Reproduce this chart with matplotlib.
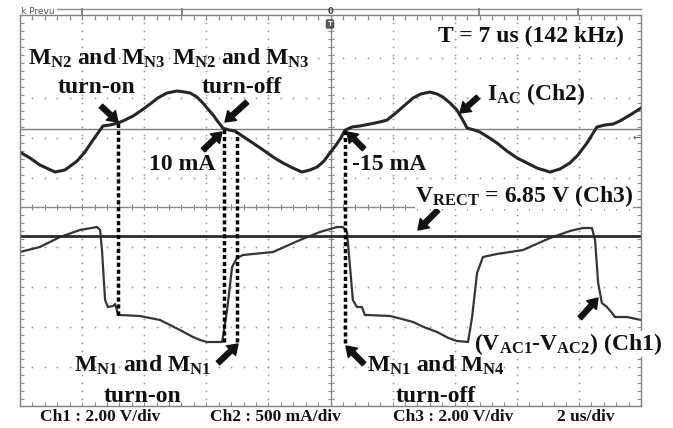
import numpy as np
import matplotlib
matplotlib.use("Agg")
import matplotlib.pyplot as plt
from matplotlib.patches import FancyArrowPatch
from matplotlib.lines import Line2D

plt.rcParams['mathtext.fontset'] = 'custom'
plt.rcParams['mathtext.rm'] = 'Liberation Serif:bold'
plt.rcParams['mathtext.bf'] = 'Liberation Serif:bold'
plt.rcParams['mathtext.it'] = 'Liberation Serif:bold'

# ---------------- data (read from the scope capture) ----------------
# Ch2: I_AC (mA) vs time (us)
t_iac = [0.00, 0.32, 0.64, 1.13, 1.45, 1.84, 2.09, 2.35, 2.58, 2.67, 2.90, 3.16, 3.38, 3.64, 3.93,
         4.19, 4.44, 4.73, 5.06, 5.31, 5.48, 5.70, 5.89, 6.05, 6.22, 6.38, 6.54, 6.73, 6.92, 7.21,
         7.50, 7.83, 8.15, 8.47, 8.79, 9.08, 9.34, 9.57, 9.79, 9.98, 10.18, 10.31, 10.47, 10.69, 10.95,
         11.27, 11.59, 11.82, 12.14, 12.40, 12.66, 12.91, 13.20, 13.43, 13.62, 13.85, 14.07, 14.24, 14.40,
         14.62, 14.81, 15.07, 15.36, 15.68, 16.01, 16.33, 16.65, 17.07, 17.39, 17.71, 17.97, 18.26, 18.42,
         18.58, 18.84, 19.10, 19.32, 19.65, 20.00]
i_ac = [-290, -362, -450, -538, -512, -400, -288, -138, -12, 38, 50, 75, 112, 162, 238,
        312, 388, 450, 475, 462, 450, 400, 325, 250, 175, 88, 10, -12, -25, -100,
        -175, -262, -350, -425, -488, -538, -512, -475, -400, -300, -200, -125, -15, 25, 38,
        62, 88, 112, 212, 300, 388, 438, 462, 438, 400, 325, 238, 125, 12,
        -12, -38, -100, -175, -275, -362, -425, -488, -538, -500, -425, -325, -175, -75,
        25, 50, 62, 100, 175, 262]

# Ch1: V_AC1 - V_AC2 (V) vs time (us)
t_vac = [0.00, 0.64, 1.29, 1.93, 2.48, 2.58, 2.64, 2.74, 2.83, 3.00, 3.06, 3.12, 3.16, 3.22, 3.86,
         4.51, 4.83, 5.15, 5.57, 5.80, 6.02, 6.51, 6.67, 6.83, 6.99, 7.18, 8.15, 9.02, 9.66, 10.21,
         10.40, 10.53, 10.63, 10.72, 10.85, 11.01, 11.11, 11.18, 11.92, 12.30, 12.66, 13.00, 13.43, 13.80,
         14.07, 14.43, 14.56, 14.72, 14.91, 15.36, 16.20, 17.07, 17.71, 18.13, 18.42, 18.52, 18.62,
         18.74, 18.90, 19.07, 19.16, 19.55, 20.00]
v_ac = [1.75, 2.0, 2.5, 2.85, 3.0, 2.85, 1.85, -0.65, -1.0, -0.95, -0.85, -1.15, -1.4, -1.4, -1.45,
        -1.65, -1.9, -2.15, -2.5, -2.65, -2.75, -2.75, -1.15, 1.0, 1.45, 1.6, 1.75, 2.35, 2.75, 3.0,
        3.0, 2.75, 1.0, -0.65, -1.0, -1.0, -1.4, -1.4, -1.45, -1.6, -1.75, -2.0, -2.25, -2.55,
        -2.7, -2.75, -1.5, 0.7, 1.5, 1.65, 1.85, 2.45, 2.8, 2.95, 2.95, 2.35, 0.2,
        -0.8, -1.0, -1.3, -1.5, -1.5, -1.65]

# Ch3: rectifier output (V)
v_rect = 6.85

# switching instants (us) and the Ch1 level where each dotted marker ends (V)
marker_t = [3.16, 6.57, 6.99, 10.47]
marker_v_end = [-1.4, -2.75, -2.75, -2.8]

i_turnoff_ma = 10
i_turnon_ma = -15
period_us = 7
freq_khz = 142
scale_labels = ["Ch1 : 2.00 V/div", "Ch2 : 500 mA/div", "Ch3 : 2.00 V/div", "2 us/div"]

# ---------------- display settings ----------------
W, H = 673, 428
ch2_zero, ch2_mA_per_div = 1.95, 500.0
ch1_zero, ch1_V_per_div = -2.0, 2.0
ch3_zero, ch3_V_per_div = -4.15, 2.0

fig = plt.figure(figsize=(W / 100, H / 100), dpi=100)
ax = fig.add_axes([20 / W, 1 - 406 / H, 621 / W, 391 / H])
ax.set_xlim(0, 20)
ylo, yhi = (207 - 406) / 40, (207 - 15) / 40
ax.set_ylim(ylo, yhi)
ax.set_xticks([]); ax.set_yticks([])
for s in ax.spines.values():
    s.set_color('#808080'); s.set_linewidth(1.0)

grid_c = '#9c9c9c'
# graticule dots
row_px = [19, 58, 98, 138, 178, 247, 287, 327, 367]
rows = [(207 - y) / 40 for y in row_px]
tx = np.arange(0.4, 20, 0.4)
for r in rows:
    ax.plot(tx, np.full_like(tx, r), ls='none', marker='o', ms=1.3, mew=0, color=grid_c)
ty = np.arange(-4.8, 4.8, 0.2)
for c in [2, 4, 6, 8, 12, 14, 16, 18]:
    ax.plot(np.full_like(ty, c), ty, ls='none', marker='o', ms=1.3, mew=0, color=grid_c)

# center axes with ticks
ax.axhline(0, color='#8a8a8a', lw=1.0)
ax.axvline(10, color='#8a8a8a', lw=1.0)
tk = np.arange(0, 20.01, 0.4)
ax.plot(tk, np.zeros_like(tk), ls='none', marker='|', ms=5, mew=0.8, color='#8a8a8a')
tv = np.arange(-5.0, 5.0, 0.2)
ax.plot(np.full_like(tv, 10), tv, ls='none', marker='_', ms=5, mew=0.8, color='#8a8a8a')
# edge ticks
ax.plot(tk, np.full_like(tk, ylo), ls='none', marker='|', ms=6, mew=0.8, color='#8a8a8a')
ax.plot(tk, np.full_like(tk, yhi), ls='none', marker='|', ms=6, mew=0.8, color='#8a8a8a')
ax.plot(np.zeros_like(tv), tv, ls='none', marker='_', ms=6, mew=0.8, color='#8a8a8a')
ax.plot(np.full_like(tv, 20), tv, ls='none', marker='_', ms=6, mew=0.8, color='#8a8a8a')

# Ch2 reference line
ax.axhline(ch2_zero, color='#7c7c7c', lw=1.0)

# traces
ax.plot(t_iac, ch2_zero + np.array(i_ac) / ch2_mA_per_div, color='#262626', lw=2.2,
        solid_joinstyle='round')
ax.plot(t_vac, ch1_zero + np.array(v_ac) / ch1_V_per_div, color='#353535', lw=1.6,
        solid_joinstyle='round')
ax.axhline(ch3_zero + v_rect / ch3_V_per_div, color='#2a2a2a', lw=2.0)

# dotted switching markers
for tm, ve in zip(marker_t, marker_v_end):
    top = ch2_zero + np.interp(tm, t_iac, i_ac) / ch2_mA_per_div
    bot = ch1_zero + ve / ch1_V_per_div
    ax.plot([tm, tm], [bot, top], color='black', lw=2.5, ls=(0, (1.2, 0.8)))


# ---------------- annotations (pixel layout helpers) ----------------
def F(x, y):
    return (x / W, 1 - y / H)


def label(x, y, s, size=17, ha='left', bg=False):
    kw = dict(fontsize=size, family='Liberation Serif', weight='bold', ha=ha,
              va='baseline', color='#111111')
    if bg:
        kw['bbox'] = dict(facecolor='white', edgecolor='none', pad=0.3)
    fig.text(*F(x, y), s, **kw)


def arrow(x0, y0, x1, y1):
    p = FancyArrowPatch(F(x0, y0), F(x1, y1), transform=fig.transFigure,
                        arrowstyle='simple,head_length=7,head_width=9.5,tail_width=3.6',
                        mutation_scale=1, color='#111111', shrinkA=0, shrinkB=0)
    fig.add_artist(p)


MN23 = r"$\mathrm{M}_{\mathrm{N2}}$ and $\mathrm{M}_{\mathrm{N3}}$"
label(97, 65, MN23, ha='center')
label(97, 93, "turn-on", ha='center')
label(241, 65, MN23, ha='center')
label(242, 93, "turn-off", ha='center')
label(182, 170, f"{i_turnoff_ma} mA", ha='center')
label(352, 170, f"{i_turnon_ma} mA")
label(531, 42, f"T = {period_us} us ({freq_khz} kHz)", ha='center')
label(487, 100, r"$\mathrm{I}_{\mathrm{AC}}$ (Ch2)")
label(415, 202, r"$\mathrm{V}_{\mathrm{RECT}}$" + f" = {v_rect:.2f} V (Ch3)", bg=True)
label(143, 372, r"$\mathrm{M}_{\mathrm{N1}}$ and $\mathrm{M}_{\mathrm{N1}}$", ha='center')
label(143, 402, "turn-on", ha='center')
label(436, 372, r"$\mathrm{M}_{\mathrm{N1}}$ and $\mathrm{M}_{\mathrm{N4}}$", ha='center')
label(436, 402, "turn-off", ha='center')
label(474, 350, r"($\mathrm{V}_{\mathrm{AC1}}$-$\mathrm{V}_{\mathrm{AC2}}$) (Ch1)", bg=True)

arrow(101, 106, 118, 122)
arrow(247, 102, 225, 122)
arrow(203, 150, 222, 132)
arrow(364, 149, 347, 132)
arrow(478, 97, 460, 113)
arrow(438, 210, 418, 230)
arrow(218, 363, 238, 344)
arrow(364, 364, 346, 346)
arrow(580, 318, 598, 298)

# footer scale labels
for xpos, s in zip([40, 210, 393, 557], scale_labels):
    label(xpos, 421, s, size=12.5)

# scope status bar bits
fig.add_artist(Line2D([57 / W, 641 / W], [1 - 9 / H] * 2, color='#8a8a8a', lw=1.0))
for xp in [82, 182, 479, 578]:
    fig.add_artist(Line2D([xp / W] * 2, [1 - 9 / H, 1 - 15 / H], color='#777777', lw=1.2))
fig.text(*F(21, 14), "k Prevu", fontsize=6.5, color='#555555', va='baseline', family='DejaVu Sans')
fig.text(*F(330, 12), "0", fontsize=6, color='#444444', ha='center', va='center',
         family='DejaVu Sans', weight='bold')
fig.text(*F(330, 24), "T", fontsize=5, color='white', ha='center', va='center',
         family='DejaVu Sans', weight='bold',
         bbox=dict(boxstyle='round,pad=0.15', fc='#555555', ec='#555555'))
fig.text(*F(637, 138), "\u2190", fontsize=7, color='#555555', ha='center', va='center',
         family='DejaVu Sans')

fig.savefig("out.png", dpi=100)
